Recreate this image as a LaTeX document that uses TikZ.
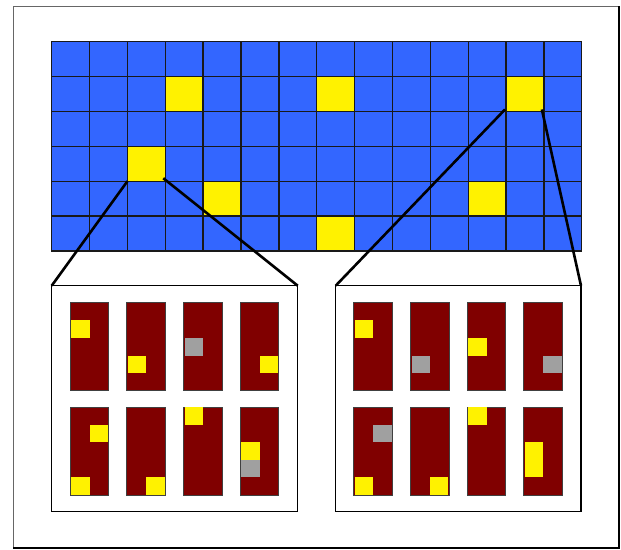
\documentclass[tikz,border=0pt]{standalone}
\definecolor{gblue}{RGB}{51,102,255}
\definecolor{dred}{RGB}{128,0,0}
\definecolor{gry}{RGB}{160,160,160}
\begin{document}
\begin{tikzpicture}[x=1pt,y=-1pt,
  cellbox/.style={draw=black!90, line width=1.3pt, fill=gblue, minimum width=37.86pt, minimum height=34.88pt, inner sep=0pt, outer sep=0pt, anchor=north west},
  panelbox/.style={draw=black, line width=1.3pt, fill=white, minimum height=226pt, inner sep=0pt, outer sep=0pt, anchor=north west},
  barbox/.style={draw=black!75, line width=0.8pt, fill=dred, minimum width=38.7pt, minimum height=88pt, inner sep=0pt, outer sep=0pt, anchor=north west},
  zoomline/.style={draw=black, line width=2.6pt}]
\useasboundingbox (0,0) rectangle (621,549);
\fill[white] (0,0) rectangle (621,549);
% outer frame
\draw[black!60, line width=0.8pt] (13.5,6.5) rectangle (618.5,547);
\draw[black, line width=2pt] (618.5,6) -- (618.5,547.5) -- (13,547.5);
% grid
\foreach \c in {0,...,13}
  \foreach \r in {0,...,5}
    \node[cellbox] (c-\c-\r) at ({51.7+\c*37.86},{41.7+\r*34.88}) {};
\foreach \c/\r in {3/1,7/1,12/1,2/3,4/4,11/4,7/5}
  \node[cellbox, fill=yellow] at (c-\c-\r.north west) {};
% panels
\node[panelbox, minimum width=246pt] (lp) at (51.7,285.7) {};
\node[panelbox, minimum width=245.3pt] (rp) at (335.7,285.7) {};
% connectors
\draw[zoomline] (c-2-3.south west) -- (lp.north west);
\draw[zoomline] ([shift={(-2,-3)}]c-2-3.south east) -- (lp.north east);
\draw[zoomline] ([shift={(-1,-2)}]c-12-1.south west) -- (rp.north west);
\draw[zoomline] ([shift={(-2,-2)}]c-12-1.south east) -- (rp.north east);
% bars
\foreach \i in {0,...,3}
  \foreach \j/\yy in {0/17,1/121.3} {
    \node[barbox] (L-\i-\j) at ([shift={({18.3+\i*56.7},\yy)}]lp.north west) {};
    \node[barbox] (R-\i-\j) at ([shift={({18.0+\i*56.7},\yy)}]rp.north west) {};
  }
% squares inside bars
\foreach \p/\i/\j/\cc/\rr/\col in {
  L/0/0/0/1/yellow, L/1/0/0/3/yellow, L/2/0/0/2/gry, L/3/0/1/3/yellow,
  L/0/1/1/1/yellow, L/0/1/0/4/yellow, L/1/1/1/4/yellow, L/2/1/0/0/yellow,
  L/3/1/0/2/yellow, L/3/1/0/3/gry,
  R/0/0/0/1/yellow, R/1/0/0/3/gry, R/2/0/0/2/yellow, R/3/0/1/3/gry,
  R/0/1/1/1/gry, R/0/1/0/4/yellow, R/1/1/1/4/yellow, R/2/1/0/0/yellow,
  R/3/1/0/2/yellow, R/3/1/0/3/yellow}
  \fill[\col] ([shift={({1.3+\cc*18.3},{\rr*17.6})}]\p-\i-\j.north west) rectangle ++(18.3,17.6);
\end{tikzpicture}
\end{document}
